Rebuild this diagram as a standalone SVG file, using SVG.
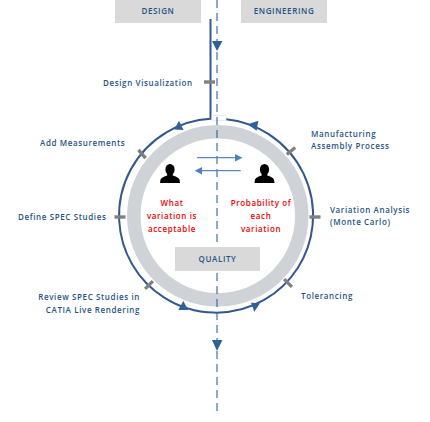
<svg xmlns="http://www.w3.org/2000/svg" width="430" height="422" viewBox="0 0 430 422">
<style>
text{font-family:"Open Sans","Liberation Sans",sans-serif;font-size:8px;font-weight:600;fill:#1f5582;letter-spacing:.62px}
.r{fill:#f00000;text-anchor:middle}
.h{text-anchor:middle}
.e{text-anchor:end}
.t{fill:#808080}
.a{fill:#2f6199}
.l{fill:none;stroke:#33588c;stroke-width:2}
.p{fill:#000}
</style>
<defs>
<g id="person"><ellipse cx="0" cy="-4.500" rx="4.600" ry="5.500"/><path d="M-2.800-1 L-2.800 1.500 Q-8 3-9.500 5.500 L-10 9 L10 9 L9.500 5.500 Q8 3 2.800 1.500 L2.800-1Z"/></g>
<path id="tick" d="M-5.500-1.700H5.500V1.700H-5.500Z"/>
</defs>
<circle cx="217.800" cy="215.800" r="84" fill="none" stroke="#cfd3d7" stroke-width="13.500"/>
<g id="connectors">
<path class="l" d="M210.500 19V118.800A97 97 0 1 0 226 119.150"/>
<path d="M212 115.500H226V120.500H212Z" fill="#fff" stroke="#e4e4e4" stroke-width=".7"/>
<path d="M217 0V415" fill="none" stroke="#2f62a0" stroke-width="1.100" stroke-dasharray="8 5"/>
<path class="a" d="M212 41H222.500L217 51Z"/>
<path class="a" d="M212 340H222.500L217 351Z"/>
<path class="a" d="M179 120.700L174.300 129.500L183.500 130Z"/>
<path class="a" d="M247.700 124.300L258.300 120.700L256.700 130.700Z"/>
<path class="a" d="M183.300 301L178.300 310L188.300 310Z"/>
<path class="a" d="M251 302.700L260 303.300L254.300 311.700Z"/>
<path d="M197 157.700H236" stroke="#5b88b8" stroke-width="1.300" fill="none"/>
<path d="M242.500 157.700L235 154V161.400Z" fill="#4f81bd"/>
<path d="M240.700 170.700H202" stroke="#5b88b8" stroke-width="1.300" fill="none"/>
<path d="M194.700 170.700L202 167V174.400Z" fill="#4f81bd"/>
</g>
<g id="ticks" class="t">
<use href="#tick" transform="translate(209.500 82)"/>
<use href="#tick" transform="translate(142 154) rotate(50)"/>
<use href="#tick" transform="translate(291 151) rotate(-40)"/>
<use href="#tick" transform="translate(120 217)"/>
<use href="#tick" transform="translate(315 217)"/>
<use href="#tick" transform="translate(149 285) rotate(-45)"/>
<use href="#tick" transform="translate(288 283) rotate(45)"/>
</g>
<g id="design"><rect x="115" y="0" width="86" height="23" fill="#d9d9d9"/><text class="h" x="158" y="14">DESIGN</text></g>
<g id="engineering"><rect x="241" y="0" width="86" height="23" fill="#d9d9d9"/><text class="h" x="284" y="14">ENGINEERING</text></g>
<g id="quality"><rect x="175" y="247" width="85" height="24" fill="#d9d9d9"/><text class="h" x="217.500" y="262">QUALITY</text></g>
<g id="person-left" class="p"><use href="#person" transform="translate(170 174)"/></g>
<g id="person-right" class="p"><use href="#person" transform="translate(264.500 174)"/></g>
<g id="what"><text class="r" x="172" y="206">What</text><text class="r" x="172" y="219">variation is</text><text class="r" x="172" y="232">acceptable</text></g>
<g id="prob"><text class="r" x="261" y="206">Probability of</text><text class="r" x="261" y="219">each</text><text class="r" x="261" y="232">variation</text></g>
<g id="n1"><text x="103" y="86">Design Visualization</text></g>
<g id="n2"><text x="40" y="146">Add Measurements</text></g>
<g id="n3"><text x="18" y="220">Define SPEC Studies</text></g>
<g id="n4"><text class="e" x="140" y="300">Review SPEC Studies in</text><text class="e" x="140" y="313">CATIA Live Rendering</text></g>
<g id="n5"><text x="311" y="137">Manufacturing</text><text x="311" y="149">Assembly Process</text></g>
<g id="n6"><text x="330" y="213">Variation Analysis</text><text x="330" y="225">(Monte Carlo)</text></g>
<g id="n7"><text x="301" y="299">Tolerancing</text></g>
</svg>
